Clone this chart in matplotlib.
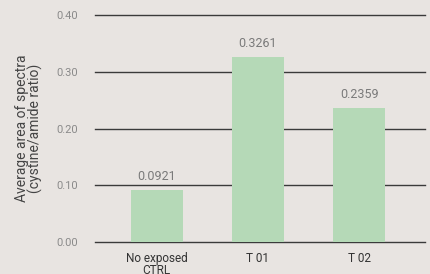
import numpy as np
import matplotlib.pyplot as plt

categories = ["No exposed\nCTRL", "T 01", "T 02"]
values = [0.0921, 0.3261, 0.2359]
value_labels = ["0.0921", "0.3261", "0.2359"]
yticks = [0.0, 0.1, 0.2, 0.3, 0.4]

plt.rcParams['font.family'] = ['Roboto', 'DejaVu Sans']

bg = '#e8e4e1'
fig = plt.figure(figsize=(4.3, 2.74), dpi=100, facecolor=bg)
ax = fig.add_axes([0.221, 0.117, 0.767, 0.828], facecolor=bg)

x = np.arange(len(categories))

# lignes de grille horizontales
for t in yticks:
    ax.axhline(t, color='#3a3a3a', linewidth=1.0, zorder=1, clip_on=False)

ax.bar(x, values, width=0.51, color='#b5d9b7', zorder=2)

for xi, v, lab in zip(x, values, value_labels):
    ax.text(xi, v + 0.012, lab, ha='center', va='bottom', fontsize=9,
            color='#7a7a7a')

ax.set_xlim(-0.61, 2.65)
ax.set_ylim(0, 0.4)
ax.set_yticks(yticks)
ax.set_yticklabels([f"{t:.2f}" for t in yticks], color='#8a8a8a', fontsize=8)
ax.set_xticks(x)
ax.set_xticklabels(categories, color='#333333', fontsize=8.5, linespacing=0.9)
ax.tick_params(axis='both', length=0)
ax.tick_params(axis='y', pad=12)
ax.tick_params(axis='x', pad=7)

for s in ax.spines.values():
    s.set_visible(False)

ax.set_ylabel("Average area of spectra\n(cystine/amide ratio)", fontsize=10,
              color='#444444', linespacing=0.85, labelpad=10)

fig.savefig('out.png', dpi=100, facecolor=bg)
